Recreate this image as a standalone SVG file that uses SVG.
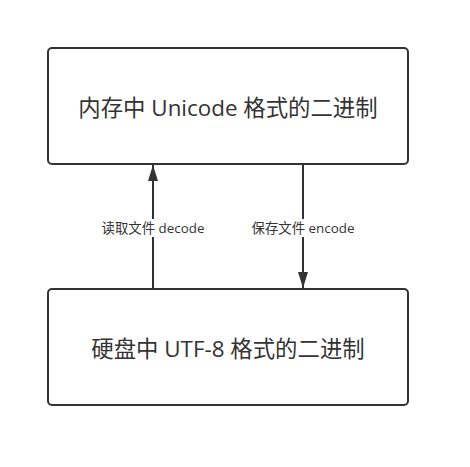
<svg xmlns="http://www.w3.org/2000/svg" width="470" height="467" viewBox="0 0 470 467">
<style>
.box{fill:#fff;stroke:#333;stroke-width:2}
.t{font-family:"Open Sans","Noto Sans CJK SC",sans-serif;font-size:22.4px;fill:#333;text-anchor:middle;dominant-baseline:central}
.l{font-family:"Open Sans","Noto Sans CJK SC",sans-serif;font-size:13.4px;fill:#333;text-anchor:middle;dominant-baseline:central}
.c{stroke:#333;stroke-width:2;fill:none}
.lb{fill:#fff}
</style>
<defs>
<marker id="ah" markerWidth="16" markerHeight="12" viewBox="0 0 16 12" refX="16" refY="6" orient="auto" markerUnits="userSpaceOnUse">
<path d="M0,1 L16,6 L0,11 Z" fill="#333"/>
</marker>
</defs>
<rect width="470" height="467" fill="#fff"/>
<g id="connectors">
<path class="c" d="M153,289 V165" marker-end="url(#ah)"/>
<path class="c" d="M303,164 V288" marker-end="url(#ah)"/>
<rect class="lb" x="99" y="219" width="110" height="18"/>
<text class="l" x="153" y="228">读取文件 decode</text>
<rect class="lb" x="248" y="219" width="110" height="18"/>
<text class="l" x="303" y="228">保存文件 encode</text>
</g>
<g id="memory">
<rect class="box" x="48" y="48" width="360" height="116" rx="4"/>
<text class="t" x="228" y="107">内存中 Unicode 格式的二进制</text>
</g>
<g id="disk">
<rect class="box" x="48" y="289" width="360" height="116" rx="4"/>
<text class="t" x="228" y="348">硬盘中 UTF-8 格式的二进制</text>
</g>
</svg>
